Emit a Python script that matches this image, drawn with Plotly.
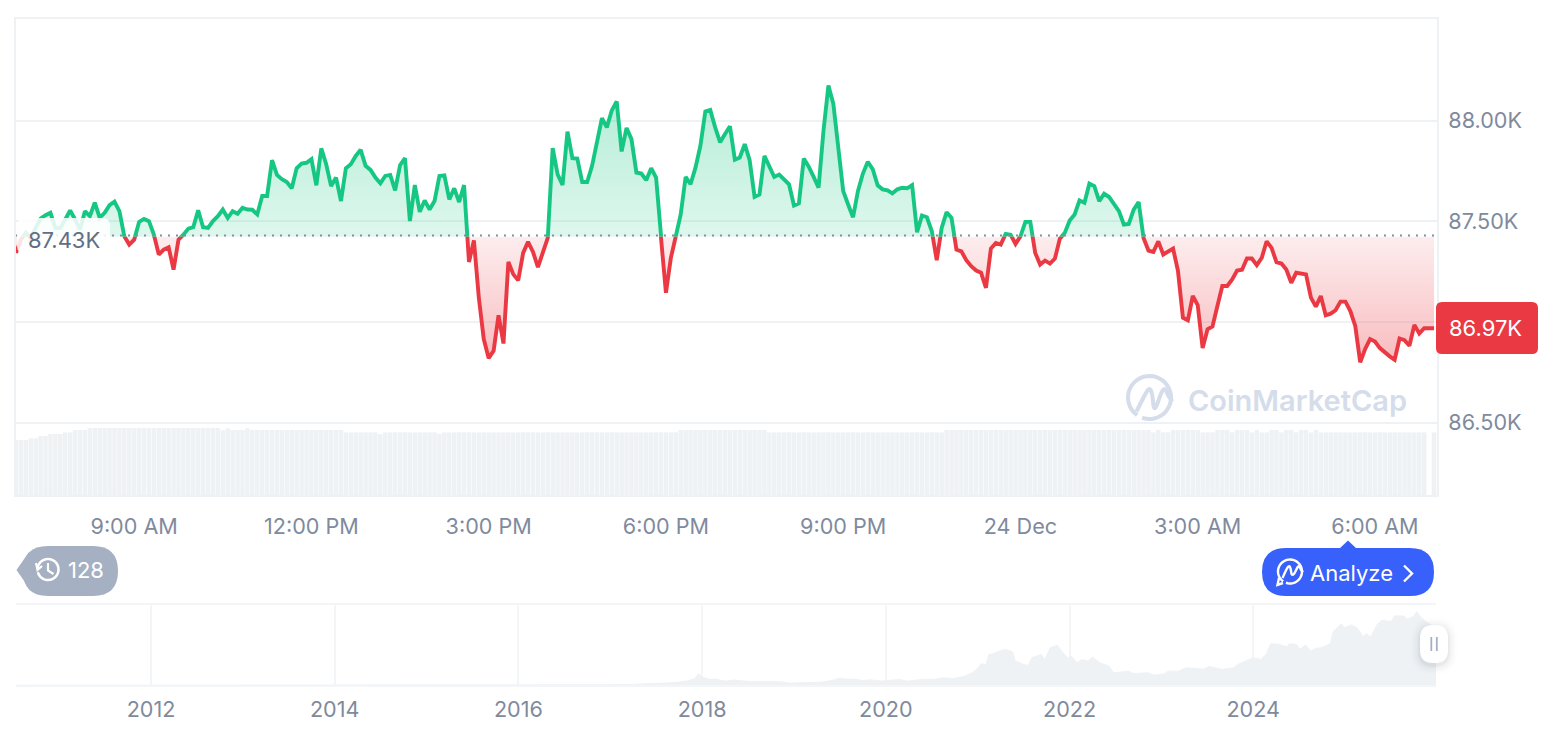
import math
import pandas as pd
import plotly.graph_objects as go

W, H = 1566, 732

BASELINE = 87430
LAST_PRICE_LABEL = "86.97K"
BASELINE_LABEL = "87.43K"
TIMES = pd.date_range("2025-12-23 07:00", periods=289, freq="5min")

PRICES = [
    87349, 87415, 87449, 87424, 87473, 87520, 87536, 87548, 87473, 87473,
    87515, 87560, 87515, 87465, 87556, 87531, 87598, 87523, 87548, 87586,
    87603, 87556, 87432, 87391, 87415, 87503, 87518, 87507, 87440, 87341,
    87366, 87377, 87266, 87415, 87440, 87470, 87477, 87560, 87477, 87473,
    87507, 87531, 87564, 87523, 87556, 87543, 87573, 87564, 87563, 87540,
    87631, 87631, 87808, 87735, 87714, 87700, 87669, 87768, 87791, 87795,
    87813, 87684, 87866, 87788, 87680, 87722, 87606, 87768, 87788, 87829,
    87859, 87780, 87760, 87722, 87694, 87730, 87735, 87659, 87783, 87818,
    87507, 87685, 87553, 87609, 87564, 87606, 87730, 87733, 87614, 87669,
    87601, 87685, 87304, 87412, 87126, 86919, 86824, 86861, 87038, 86897,
    87304, 87242, 87212, 87349, 87404, 87354, 87278, 87344, 87424, 87868,
    87738, 87685, 87949, 87818, 87816, 87700, 87700, 87780, 87896, 88015,
    87970, 88053, 88098, 87851, 87967, 87912, 87747, 87742, 87709, 87768,
    87722, 87424, 87150, 87324, 87432, 87540, 87725, 87689, 87771, 87879,
    88048, 88056, 87970, 87896, 87937, 87975, 87810, 87821, 87887, 87808,
    87627, 87639, 87829, 87780, 87725, 87737, 87714, 87689, 87584, 87594,
    87816, 87776, 87725, 87672, 87954, 88177, 88086, 87871, 87656, 87589,
    87526, 87656, 87742, 87800, 87763, 87684, 87664, 87659, 87644, 87664,
    87672, 87669, 87685, 87452, 87535, 87526, 87457, 87313, 87473, 87551,
    87523, 87366, 87357, 87313, 87283, 87261, 87250, 87175, 87371, 87399,
    87391, 87444, 87440, 87394, 87432, 87503, 87503, 87349, 87291, 87311,
    87296, 87321, 87420, 87449, 87510, 87540, 87609, 87598, 87692, 87680,
    87606, 87642, 87626, 87594, 87556, 87490, 87493, 87564, 87601, 87424,
    87361, 87354, 87407, 87341, 87354, 87371, 87258, 87026, 87013, 87134,
    87089, 86874, 86968, 86982, 87084, 87184, 87184, 87217, 87261, 87265,
    87321, 87321, 87288, 87324, 87407, 87374, 87303, 87296, 87266, 87200,
    87250, 87245, 87242, 87126, 87081, 87134, 87038, 87046, 87063, 87106,
    87106, 87059, 86985, 86803, 86869, 86919, 86907, 86874, 86852, 86833,
    86816, 86922, 86914, 86886, 86990, 86947, 86973, 86973, 86973,
]

VOLUMES = [
    55, 55, 55, 56.7, 56.7, 59, 59, 61, 61, 61,
    62.7, 62.7, 65, 65, 65, 67, 67, 67, 67, 67,
    67, 67, 67, 67, 67, 67, 67, 67, 67, 67,
    67, 67, 67, 67, 67, 67, 67, 67, 67, 67,
    67, 67, 64.7, 66.7, 65, 65, 65, 66.7, 65, 65,
    65, 65, 65, 65, 65, 65, 65, 65, 65, 65,
    65, 65, 65, 65, 65, 65, 65, 62.7, 62.7, 62.7,
    62.7, 62.7, 62.7, 62.7, 61, 62.7, 62.7, 62.7, 62.7, 62.7,
    62.7, 62.7, 62.7, 62.7, 62.7, 62.7, 61, 62.7, 62.7, 62.7,
    62.7, 62.7, 62.7, 62.7, 62.7, 62.7, 62.7, 62.7, 62.7, 62.7,
    62.7, 62.7, 62.7, 62.7, 62.7, 62.7, 62.7, 62.7, 62.7, 62.7,
    62.7, 62.7, 62.7, 62.7, 62.7, 62.7, 62.7, 62.7, 62.7, 62.7,
    62.7, 62.7, 62.7, 62.7, 62.7, 62.7, 62.7, 62.7, 62.7, 62.7,
    62.7, 62.7, 62.7, 62.7, 62.7, 65, 65, 65, 65, 65,
    65, 65, 65, 65, 65, 65, 65, 65, 65, 65,
    65, 65, 65, 62.7, 62.7, 62.7, 62.7, 62.7, 62.7, 62.7,
    62.7, 62.7, 62.7, 62.7, 62.7, 62.7, 62.7, 62.7, 62.7, 62.7,
    62.7, 62.7, 62.7, 62.7, 62.7, 62.7, 62.7, 62.7, 62.7, 62.7,
    62.7, 62.7, 62.7, 62.7, 62.7, 62.7, 62.7, 62.7, 62.7, 65,
    65, 65, 65, 65, 65, 65, 65, 65, 65, 65,
    65, 65, 65, 65, 65, 65, 65, 65, 65, 65,
    65, 65, 65, 65, 65, 65, 65, 65, 65, 65,
    65, 65, 65, 65, 65, 65, 65, 65, 65, 65,
    65, 62.7, 65, 62.7, 62.7, 65, 65, 65, 65, 65,
    65, 62.7, 62.7, 62.7, 65, 65, 65, 62.7, 65, 65,
    65, 62.7, 65, 62.7, 62.7, 65, 65, 62.7, 65, 65,
    62.7, 65, 65, 62.7, 65, 62.7, 62.7, 62.7, 62.7, 62.7,
    62.7, 62.7, 62.7, 62.7, 62.7, 62.7, 62.7, 62.7, 62.7, 62.7,
    62.7, 62.7, 62.7, 62.7, 62.7, 62.7, 62.7, None, 62.7,
]

PRICE_TICKS = [86500, 87000, 87500, 88000]
PRICE_TICK_TEXT = ["86.50K", "", "87.50K", "88.00K"]
TIME_TICKS = ["2025-12-23 09:00", "2025-12-23 12:00", "2025-12-23 15:00",
              "2025-12-23 18:00", "2025-12-23 21:00", "2025-12-24 00:00",
              "2025-12-24 03:00", "2025-12-24 06:00"]
TIME_TICK_TEXT = ["9:00 AM", "12:00 PM", "3:00 PM", "6:00 PM", "9:00 PM",
                  "24 Dec", "3:00 AM", "6:00 AM"]

HISTORY_YEARS = [
    2010.53, 2012.0, 2013.0, 2013.3, 2013.95, 2014.5, 2015.0, 2016.0, 2016.9, 2017.2,
    2017.4, 2017.6, 2017.7, 2017.83, 2017.92, 2017.96, 2018.0, 2018.08, 2018.15, 2018.25,
    2018.35, 2018.5, 2018.6, 2018.75, 2018.87, 2018.95, 2019.0, 2019.2, 2019.3, 2019.42,
    2019.5, 2019.55, 2019.65, 2019.75, 2019.83, 2019.95, 2020.1,
    2020.155, 2020.23, 2020.39, 2020.54, 2020.62, 2020.74, 2020.86, 2020.93, 2020.99, 2021.04,
    2021.09, 2021.12, 2021.17, 2021.24, 2021.30, 2021.38, 2021.41, 2021.46, 2021.50, 2021.55,
    2021.59, 2021.69, 2021.73, 2021.79, 2021.87, 2021.92, 2021.98, 2022.02, 2022.08, 2022.14,
    2022.20, 2022.25, 2022.33, 2022.43, 2022.48, 2022.64, 2022.70, 2022.86, 2022.92, 2023.03,
    2023.07, 2023.19, 2023.27, 2023.46, 2023.52, 2023.66, 2023.79, 2023.83, 2024.00, 2024.08,
    2024.14, 2024.19, 2024.28, 2024.37, 2024.39, 2024.47, 2024.51, 2024.57, 2024.63, 2024.68,
    2024.74, 2024.84, 2024.87, 2024.96, 2024.99, 2025.07, 2025.13, 2025.20, 2025.23, 2025.28,
    2025.35, 2025.40, 2025.50, 2025.54, 2025.64, 2025.68, 2025.75, 2025.78, 2025.83, 2025.87,
    2025.95, 2025.99,
]
HISTORY_PRICES = [
    70, 6, 13, 130, 750, 600, 300, 430, 750, 1100,
    2200, 2900, 4500, 7000, 11000, 19500, 14000, 10000, 10500, 7000,
    9000, 6500, 7000, 6500, 5500, 3400, 3800, 4000, 5300, 8500,
    12000, 10500, 10500, 8000, 9200, 7200, 9500,
    9724, 6864, 9724, 10296, 12584, 11440, 15444, 20592, 26884, 37180,
    34320, 52624, 53768, 58344, 61204, 57200, 41184, 38324, 35464, 33748,
    46904, 52624, 44044, 64064, 68068, 57200, 46904, 49764, 38324, 44044,
    41184, 48048, 38324, 32604, 21164, 24024, 20020, 21164, 17160, 19448,
    24024, 24024, 29744, 27456, 32032, 26884, 29744, 35464, 46904, 44044,
    52624, 70928, 69784, 65208, 70928, 69784, 61204, 68640, 58344, 62920,
    64064, 70928, 91520, 105248, 98384, 102960, 98384, 82368, 88088, 82368,
    104104, 110968, 108680, 118404, 118404, 112684, 118404, 125840, 115544, 109824,
    101244, 100000,
]
YEAR_TICKS = [2012, 2014, 2016, 2018, 2020, 2022, 2024]

GREEN = "#16c784"
RED = "#ea3943"
GRID = "#eff2f5"
TICK = "#808a9d"
FONT = "Inter"


def px(x):
    return x / W


def py(y):
    return 1 - y / H


def pts(points, close=False):
    s = "M " + " L ".join(f"{px(x):.5f},{py(y):.5f}" for x, y in points)
    return s + (" Z" if close else "")


def smooth(points, rounds=2):
    for _ in range(rounds):
        out = [points[0]]
        for (x0, y0), (x1, y1) in zip(points, points[1:]):
            out.append((0.75 * x0 + 0.25 * x1, 0.75 * y0 + 0.25 * y1))
            out.append((0.25 * x0 + 0.75 * x1, 0.25 * y0 + 0.75 * y1))
        out.append(points[-1])
        points = out
    return points


def rrect(x0, y0, x1, y1, r):
    c = lambda x, y: f"{px(x):.5f},{py(y):.5f}"
    return (f"M {c(x0 + r, y0)} L {c(x1 - r, y0)} Q {c(x1, y0)} {c(x1, y0 + r)} "
            f"L {c(x1, y1 - r)} Q {c(x1, y1)} {c(x1 - r, y1)} L {c(x0 + r, y1)} "
            f"Q {c(x0, y1)} {c(x0, y1 - r)} L {c(x0, y0 + r)} Q {c(x0, y0)} {c(x0 + r, y0)} Z")


def arc(cx, cy, r, a0, a1, n=40):
    return [(cx + r * math.cos(math.radians(a0 + (a1 - a0) * k / n)),
             cy + r * math.sin(math.radians(a0 + (a1 - a0) * k / n))) for k in range(n + 1)]


def fill_shape(path, color):
    return dict(type="path", xref="paper", yref="paper", path=path,
                fillcolor=color, line=dict(width=0), layer="above")


def stroke_shape(points, color, width):
    return dict(type="path", xref="paper", yref="paper", path=pts(points),
                line=dict(color=color, width=width), layer="above")


def label(x, y, text, size, color, anchor="left", weight=400):
    return dict(x=px(x), y=py(y), xref="paper", yref="paper", text=text, showarrow=False,
                xanchor=anchor, yanchor="middle", borderpad=0,
                font=dict(family=FONT, size=size, color=color, weight=weight))


TOP_PRICE, BOTTOM_PRICE = 88510, 86141
base_y = 236.7

fig = go.Figure()

fig.add_trace(go.Bar(x=TIMES, y=VOLUMES, xaxis="x", yaxis="y4", marker=dict(color=GRID, line=dict(width=0)),
                     hoverinfo="skip", showlegend=False))

fig.add_trace(go.Scatter(x=TIMES, y=[BASELINE] * len(TIMES), xaxis="x", yaxis="y2", mode="lines",
                         line=dict(width=0), hoverinfo="skip", showlegend=False))
fig.add_trace(go.Scatter(x=TIMES, y=PRICES, xaxis="x", yaxis="y2", mode="lines",
                         line=dict(color=GREEN, width=3.9), fill="tonexty",
                         fillgradient=dict(type="vertical", start=BASELINE, stop=88200,
                                           colorscale=[[0, "rgba(22,199,132,0.14)"], [1, "rgba(22,199,132,0.34)"]]),
                         showlegend=False))
fig.add_trace(go.Scatter(x=TIMES, y=[BASELINE] * len(TIMES), xaxis="x", yaxis="y3", mode="lines",
                         line=dict(width=0), hoverinfo="skip", showlegend=False))
fig.add_trace(go.Scatter(x=TIMES, y=PRICES, xaxis="x", yaxis="y3", mode="lines",
                         line=dict(color=RED, width=3.9), fill="tonexty",
                         fillgradient=dict(type="vertical", start=86800, stop=BASELINE,
                                           colorscale=[[0, "rgba(234,57,67,0.34)"], [1, "rgba(234,57,67,0.09)"]]),
                         showlegend=False))
fig.add_trace(go.Scatter(x=HISTORY_YEARS, y=HISTORY_PRICES, xaxis="x2", yaxis="y5", mode="lines",
                         line=dict(color=GRID, width=1), fill="tozeroy", fillcolor=GRID,
                         hoverinfo="skip", showlegend=False))

shapes = []
shapes.append(dict(type="line", xref="x", yref="y", x0=TIMES[0], x1=TIMES[-1], y0=BASELINE, y1=BASELINE,
                   line=dict(color="#868ea4", width=2, dash="2px,6px"), layer="above"))
shapes.append(fill_shape(rrect(17, 218, 110, 254, 8), "rgba(255,255,255,0.86)"))
shapes.append(fill_shape(rrect(1436, 302, 1538, 354, 6), RED))

shapes.append(fill_shape(pts([(16.5, 570), (29, 552), (29, 588)], True), "#a6b0c3"))
shapes.append(fill_shape(rrect(23, 546, 118, 596, 25), "#a6b0c3"))
shapes.append(stroke_shape(arc(48, 569.5, 10.5, -175, 165), "#ffffff", 2.5))
shapes.append(stroke_shape([(36, 563), (37.5, 570), (42, 566)], "#ffffff", 2.2))
shapes.append(stroke_shape([(48, 563), (48, 570.5), (53.5, 574)], "#ffffff", 2.2))

shapes.append(fill_shape(pts([(1339, 549), (1348, 540.5), (1357, 549)], True), "#3861fb"))
shapes.append(fill_shape(rrect(1262, 548, 1434, 596, 24), "#3861fb"))
shapes.append(stroke_shape(arc(1290, 571.5, 12, 125, 470), "#ffffff", 2.4))
shapes.append(stroke_shape([(1283, 583), (1277.5, 585), (1279, 578)], "#ffffff", 2.4))
shapes.append(stroke_shape(smooth([(1282.5, 578), (1287, 568), (1289.5, 565.5), (1291, 570), (1291.5, 575),
                                   (1294, 574.5), (1297, 568), (1299, 565.5), (1301, 570), (1303, 572)]), "#ffffff", 2.4))
shapes.append(stroke_shape([(1404, 565.5), (1412, 573.5), (1404, 581.5)], "#ffffff", 2.4))

WM = "#d5dcea"
shapes.append(stroke_shape(arc(1149.5, 397.5, 21.5, 125, 470), WM, 4))
shapes.append(stroke_shape(smooth([(1136.5, 411.5), (1146.5, 391.5), (1150, 388), (1152.5, 395), (1153.5, 408),
                                   (1156, 408), (1161.5, 391.5), (1165, 388), (1168.5, 396.5), (1172.5, 401.5)]), WM, 4))

for grow, alpha in [(9, 0.012), (7, 0.018), (5, 0.025), (3, 0.035), (1.5, 0.05)]:
    shapes.append(fill_shape(rrect(1420 - grow, 625 - grow + 2, 1448 + grow, 663 + grow + 2, 13 + grow),
                             f"rgba(88,102,126,{alpha})"))
shapes.append(fill_shape(rrect(1420, 625, 1448, 663, 13), "#ffffff"))
shapes.append(stroke_shape([(1431.3, 637), (1431.3, 651)], "#a6b0c3", 1.8))
shapes.append(stroke_shape([(1436.8, 637), (1436.8, 651)], "#a6b0c3", 1.8))

annotations = [
    label(26.5, 240, BASELINE_LABEL, 22, "#616e85"),
    label(1447.5, 328, LAST_PRICE_LABEL, 22, "#ffffff"),
    label(66.5, 570, "128", 22, "#ffffff"),
    label(1308.5, 573, "Analyze", 22, "#ffffff"),
    label(1187, 400, "CoinMarketCap", 29, WM, weight=600),
]


def ydom(y_bottom, y_top):
    return [py(y_bottom), py(y_top)]


tick_font = dict(family=FONT, size=21.6, color=TICK)
fig.update_layout(
    width=W, height=H, margin=dict(l=0, r=0, t=0, b=0), autosize=False,
    paper_bgcolor="#ffffff", plot_bgcolor="rgba(0,0,0,0)", showlegend=False,
    bargap=0.08, hovermode=False, shapes=shapes, annotations=annotations,
    xaxis=dict(domain=[px(16), px(1437)], range=["2025-12-23 07:00", "2025-12-24 07:03"], type="date",
               tickvals=TIME_TICKS, ticktext=TIME_TICK_TEXT, tickfont=tick_font, showgrid=False,
               ticks="", ticklabelstandoff=11, showline=True, mirror=True, linecolor=GRID, linewidth=2,
               anchor="y", zeroline=False),
    yaxis=dict(domain=ydom(495, 18.5), range=[BOTTOM_PRICE, TOP_PRICE - 2], side="right", anchor="x",
               tickvals=PRICE_TICKS, ticktext=PRICE_TICK_TEXT, tickfont=tick_font, showgrid=True,
               gridcolor=GRID, gridwidth=2, ticks="", ticklabelstandoff=5, showline=True, mirror=True,
               linecolor=GRID, linewidth=2, zeroline=False),
    yaxis2=dict(domain=ydom(base_y, 18), range=[BASELINE, TOP_PRICE], anchor="x", visible=False),
    yaxis3=dict(domain=ydom(495, base_y), range=[BOTTOM_PRICE, BASELINE], anchor="x", visible=False),
    yaxis4=dict(domain=ydom(495, 428), range=[0, 67], anchor="x", visible=False),
    xaxis2=dict(domain=[px(16), px(1436)], range=[2010.53, 2025.99], anchor="y5", tickvals=YEAR_TICKS,
                ticktext=[str(v) for v in YEAR_TICKS], tickfont=tick_font, showgrid=True, gridcolor="#f3f5f7",
                gridwidth=1.5, ticks="", ticklabelstandoff=4, showline=True, mirror=True, linecolor="#f3f5f7",
                linewidth=2, zeroline=False),
    yaxis5=dict(domain=ydom(685.2, 605), range=[0, 137000], anchor="x2", visible=False),
)

fig.write_html("out.html", post_script="document.body.style.margin='0';document.body.style.overflow='hidden';",
               config=dict(displayModeBar=False))
